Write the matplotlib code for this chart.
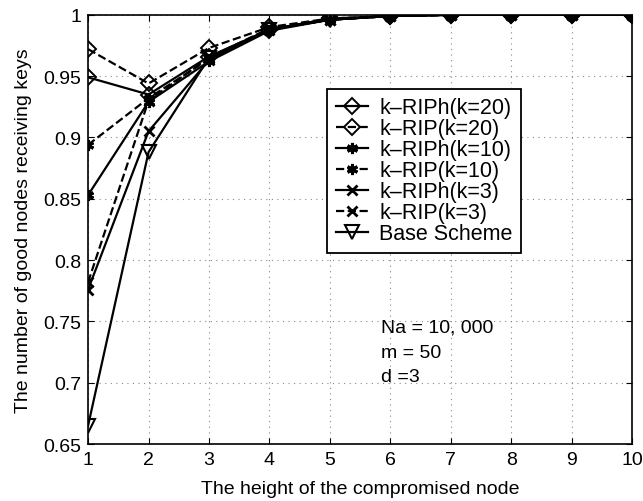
import matplotlib
matplotlib.use('Agg')
import matplotlib.pyplot as plt
import numpy as np

plt.rcParams['font.family'] = ['Liberation Sans', 'DejaVu Sans']

heights = [1, 2, 3, 4, 5, 6, 7, 8, 9, 10]

riph_20 = [0.949, 0.935, 0.966, 0.988, 0.997, 0.999, 1.0, 1.0, 1.0, 1.0]
rip_20 = [0.972, 0.944, 0.973, 0.990, 0.997, 0.999, 1.0, 1.0, 1.0, 1.0]
riph_10 = [0.853, 0.929, 0.962, 0.987, 0.996, 0.999, 1.0, 1.0, 1.0, 1.0]
rip_10 = [0.894, 0.932, 0.964, 0.988, 0.996, 0.999, 1.0, 1.0, 1.0, 1.0]
riph_3 = [0.776, 0.905, 0.963, 0.988, 0.996, 0.999, 1.0, 1.0, 1.0, 1.0]
rip_3 = [0.782, 0.930, 0.965, 0.989, 0.996, 0.999, 1.0, 1.0, 1.0, 1.0]
base = [0.665, 0.888, 0.965, 0.988, 0.996, 0.999, 1.0, 1.0, 1.0, 1.0]

ytick_labels = ['0.65', '0.7', '0.75', '0.8', '0.85', '0.9', '0.95', '1']

asterisk = (6, 2, 0)

fig = plt.figure(figsize=(6.43, 5.02), dpi=100)
ax = fig.add_axes([0.137, 0.1135, 0.846, 0.855])

ax.plot(heights, riph_20, 'k-', lw=1.6, marker='D', ms=8, mfc='none', mew=1.4, label='k\u2013RIPh(k=20)')
ax.plot(heights, rip_20, 'k--', lw=1.6, marker='D', ms=8, mfc='none', mew=1.4, label='k\u2013RIP(k=20)')
ax.plot(heights, riph_10, 'k-', lw=1.6, marker=asterisk, ms=8, mew=2.2, label='k\u2013RIPh(k=10)')
ax.plot(heights, rip_10, 'k--', lw=1.6, marker=asterisk, ms=8, mew=2.2, label='k\u2013RIP(k=10)')
ax.plot(heights, riph_3, 'k-', lw=1.6, marker='x', ms=7, mew=2, label='k\u2013RIPh(k=3)')
ax.plot(heights, rip_3, 'k--', lw=1.6, marker='x', ms=7, mew=2, label='k\u2013RIP(k=3)')
ax.plot(heights, base, 'k-', lw=1.6, marker='v', ms=10, mfc='none', mew=1.5, label='Base Scheme')

ax.set_xlim(1, 10)
ax.set_ylim(0.65, 1)
ax.set_xticks(heights)
ax.set_yticks(np.arange(0.65, 1.001, 0.05))
ax.set_yticklabels(ytick_labels)
ax.tick_params(direction='in', labelsize=14, length=4, top=True, right=True, pad=5)
ax.grid(True, linestyle=(0, (1, 4)), color='#888888', lw=0.8)
for s in ax.spines.values():
    s.set_linewidth(1.2)

ax.set_xlabel('The height of the compromised node', fontsize=14, labelpad=9)
ax.set_ylabel('The number of good nodes receiving keys', fontsize=14, labelpad=8)

leg = ax.legend(loc='upper left', bbox_to_anchor=(0.44, 0.8275), fontsize=15.5,
                frameon=True, fancybox=False, edgecolor='k', framealpha=1,
                handlelength=1.5, borderpad=0.4, labelspacing=0.0, handletextpad=0.5,
                borderaxespad=0)
leg.get_frame().set_linewidth(1.3)

ax.text(5.85, 0.7455, 'Na = 10, 000', fontsize=14, va='center')
ax.text(5.85, 0.725, 'm = 50', fontsize=14, va='center')
ax.text(5.85, 0.705, 'd =3', fontsize=14, va='center')

fig.savefig('out.png', dpi=100)
